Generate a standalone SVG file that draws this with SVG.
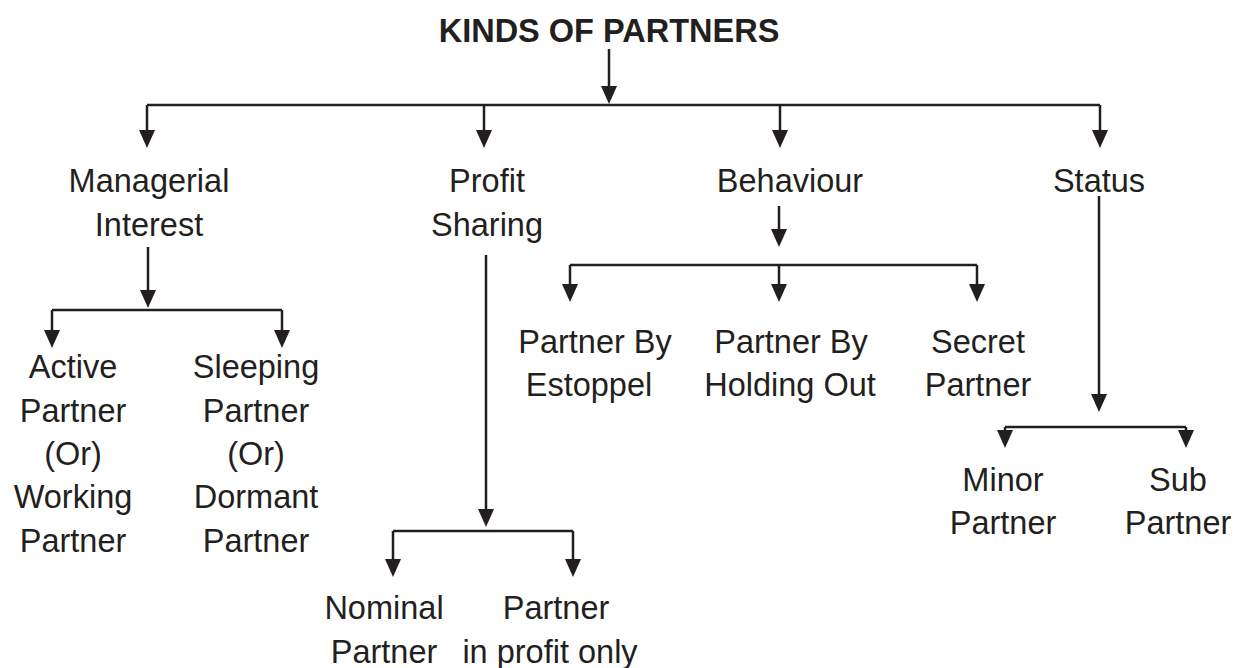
<svg xmlns="http://www.w3.org/2000/svg" width="1235" height="668" viewBox="0 0 1235 668">
  <style>
    .bg { fill: #ffffff; }
    .label { font-family: "Liberation Sans", Arial, Helvetica, sans-serif; font-size: 32.5px; fill: #231f20; text-anchor: middle; }
    .title { font-weight: bold; }
    .wire { fill: none; stroke: #231f20; stroke-width: 2.5; }
    .wire-arrow { marker-end: url(#arrow); }
  </style>
  <defs>
    <marker id="arrow" markerUnits="userSpaceOnUse" viewBox="0 0 18 16" markerWidth="18" markerHeight="16" refX="10" refY="8" orient="auto">
      <path d="M0,0 L18,8 L0,16 z" fill="#231f20"/>
    </marker>
  </defs>

  <rect class="bg" x="0" y="0" width="1235" height="668"/>

  <!-- connectors -->
  <g id="connectors">
    <!-- root -->
    <path class="wire wire-arrow" d="M609,49 V96"/>
    <path class="wire" d="M147,105 H1100"/>
    <path class="wire wire-arrow" d="M147,105 V140"/>
    <path class="wire wire-arrow" d="M484,105 V140"/>
    <path class="wire wire-arrow" d="M780,105 V140"/>
    <path class="wire wire-arrow" d="M1100,105 V140"/>
    <!-- managerial interest -->
    <path class="wire wire-arrow" d="M148,247 V300"/>
    <path class="wire" d="M52,310 H282"/>
    <path class="wire wire-arrow" d="M52,310 V340"/>
    <path class="wire wire-arrow" d="M282,310 V340"/>
    <!-- profit sharing -->
    <path class="wire wire-arrow" d="M486,255 V519"/>
    <path class="wire" d="M393,531 H573"/>
    <path class="wire wire-arrow" d="M393,531 V569"/>
    <path class="wire wire-arrow" d="M573,531 V569"/>
    <!-- behaviour -->
    <path class="wire wire-arrow" d="M779,206 V239"/>
    <path class="wire" d="M570,265 H977"/>
    <path class="wire wire-arrow" d="M570,265 V294"/>
    <path class="wire wire-arrow" d="M779,265 V294"/>
    <path class="wire wire-arrow" d="M977,265 V294"/>
    <!-- status -->
    <path class="wire wire-arrow" d="M1099,196 V404"/>
    <path class="wire" d="M1005,427 H1186"/>
    <path class="wire wire-arrow" d="M1005,427 V440"/>
    <path class="wire wire-arrow" d="M1186,427 V440"/>
  </g>

  <g id="root"><text class="label title" x="609" y="42">KINDS OF PARTNERS</text></g>

  <g id="managerial-interest">
    <text class="label" x="149" y="192">Managerial</text>
    <text class="label" x="149" y="236">Interest</text>
  </g>
  <g id="profit-sharing">
    <text class="label" x="487" y="192">Profit</text>
    <text class="label" x="487" y="236">Sharing</text>
  </g>
  <g id="behaviour"><text class="label" x="790" y="192">Behaviour</text></g>
  <g id="status"><text class="label" x="1099" y="192">Status</text></g>

  <g id="active-partner">
    <text class="label" x="73" y="378">Active</text>
    <text class="label" x="73" y="422">Partner</text>
    <text class="label" x="73" y="465">(Or)</text>
    <text class="label" x="73" y="508">Working</text>
    <text class="label" x="73" y="552">Partner</text>
  </g>
  <g id="sleeping-partner">
    <text class="label" x="256" y="378">Sleeping</text>
    <text class="label" x="256" y="422">Partner</text>
    <text class="label" x="256" y="465">(Or)</text>
    <text class="label" x="256" y="508">Dormant</text>
    <text class="label" x="256" y="552">Partner</text>
  </g>

  <g id="nominal-partner">
    <text class="label" x="384" y="619">Nominal</text>
    <text class="label" x="384" y="663">Partner</text>
  </g>
  <g id="profit-only-partner">
    <text class="label" x="556" y="619">Partner</text>
    <text class="label" x="550" y="663">in profit only</text>
  </g>

  <g id="partner-by-estoppel">
    <text class="label" x="595" y="353">Partner By</text>
    <text class="label" x="589" y="396">Estoppel</text>
  </g>
  <g id="partner-by-holding-out">
    <text class="label" x="791" y="353">Partner By</text>
    <text class="label" x="790" y="396">Holding Out</text>
  </g>
  <g id="secret-partner">
    <text class="label" x="978" y="353">Secret</text>
    <text class="label" x="978" y="396">Partner</text>
  </g>

  <g id="minor-partner">
    <text class="label" x="1003" y="491">Minor</text>
    <text class="label" x="1003" y="534">Partner</text>
  </g>
  <g id="sub-partner">
    <text class="label" x="1178" y="491">Sub</text>
    <text class="label" x="1178" y="534">Partner</text>
  </g>
</svg>
